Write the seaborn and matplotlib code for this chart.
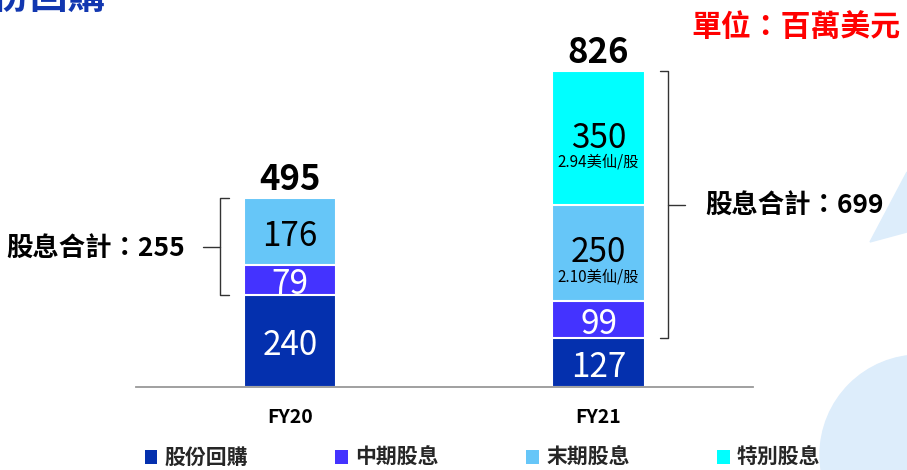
import numpy as np
import pandas as pd
import matplotlib.pyplot as plt
import seaborn as sns
from matplotlib.patches import Patch, Circle, Polygon

# data
years = ['FY20', 'FY21']
series = ['股份回購', '中期股息', '末期股息', '特別股息']
buyback = [240, 127]
interim = [79, 99]
final = [176, 250]
special = [0, 350]
per_share = {'末期股息': [None, '2.10美仙/股'], '特別股息': [None, '2.94美仙/股']}
dividend_total = [255, 699]
colors = ['#0430AE', '#4433FF', '#66C6F8', '#00FFFF']
label_colors = ['white', 'white', 'black', 'black']

sns.set_theme(style='white')
plt.rcParams['font.family'] = ['Noto Sans CJK TC', 'DejaVu Sans']

df = pd.DataFrame({'year': years, '股份回購': buyback, '中期股息': interim,
                   '末期股息': final, '特別股息': special})
cum = df[series].cumsum(axis=1)
totals = cum['特別股息'].values

fig = plt.figure(figsize=(9.07, 4.70), dpi=100)
ax = fig.add_axes([0.150, 0.1766, 0.680, 0.7319])

# background shapes
fig.patches.append(Circle((9.20, 0.15), 1.0, transform=fig.dpi_scale_trans,
                          color='#DDEDFB', zorder=0))
fig.patches.append(Polygon([(8.70, 2.28), (9.07, 2.98), (9.07, 2.38)], closed=True,
                           transform=fig.dpi_scale_trans, color='#DDEDFB', zorder=0))

# stacked bars drawn top-down with cumulative heights
for s, c in reversed(list(zip(series, colors))):
    sns.barplot(x=df['year'], y=cum[s], color=c, width=0.30, ax=ax,
                edgecolor='white', linewidth=1.5, saturation=1)

ax.set_xlim(-0.5, 1.5)
ax.set_ylim(0, 900)
ax.set_xlabel('')
ax.set_ylabel('')
ax.set_yticks([])
for sp in ['top', 'left', 'right']:
    ax.spines[sp].set_visible(False)
ax.spines['bottom'].set_color('#999999')
ax.spines['bottom'].set_linewidth(1.3)
ax.tick_params(axis='x', length=0, pad=15)
for t in ax.get_xticklabels():
    t.set_fontsize(14)
    t.set_fontweight('bold')
    t.set_color('black')

# segment labels
for i in range(len(years)):
    bottom = 0
    for s, lc in zip(series, label_colors):
        v = df[s][i]
        if v > 0:
            mid = bottom + v / 2
            sub = per_share.get(s, [None, None])[i]
            if sub:
                ax.text(i, mid, str(v), ha='center', va='center', fontsize=24, color=lc)
                ax.text(i, mid - 62, sub, ha='center', va='center', fontsize=11, color=lc)
            else:
                ax.text(i, mid - 12, str(v), ha='center', va='center', fontsize=24, color=lc)
        bottom += v
    ax.text(i, totals[i] + 3, str(totals[i]), ha='center', va='bottom',
            fontsize=25, fontweight='bold', color='black')

# brackets
br_kw = dict(color='#333333', lw=1.0, clip_on=False)
lo, hi = buyback[0], totals[0]
ax.plot([-0.2, -0.227, -0.227, -0.2], [lo, lo, hi, hi], **br_kw)
ax.plot([-0.283, -0.227], [(lo + hi) / 2] * 2, **br_kw)
ax.text(-0.34, (lo + hi) / 2 - 8, f'股息合計：{dividend_total[0]}', ha='right', va='center',
        fontsize=19, fontweight='bold', color='black')
lo, hi = buyback[1], totals[1]
ax.plot([1.2, 1.224, 1.224, 1.2], [lo, lo, hi, hi], **br_kw)
ax.plot([1.224, 1.28], [(lo + hi) / 2] * 2, **br_kw)
ax.text(1.347, (lo + hi) / 2 - 3, f'股息合計：{dividend_total[1]}', ha='left', va='center',
        fontsize=19, fontweight='bold', color='black')

# titles
fig.text(-0.05, 0.962, '股份回購', ha='left', va='bottom', fontsize=27,
         fontweight='bold', color='#1237B0')
fig.text(0.993, 0.942, '單位：百萬美元', ha='right', va='center', fontsize=21.5,
         fontweight='bold', color='#FF0000')

# legend
handles = [Patch(facecolor=c, edgecolor='none') for c in colors]
leg = fig.legend(handles, series, loc='center', bbox_to_anchor=(0.532, 0.026), ncol=4,
                 frameon=False, handlelength=0.6, handleheight=0.6, handletextpad=0.35,
                 columnspacing=4.2, prop={'size': 15, 'weight': 'bold'})

fig.savefig('out.png', dpi=100)
